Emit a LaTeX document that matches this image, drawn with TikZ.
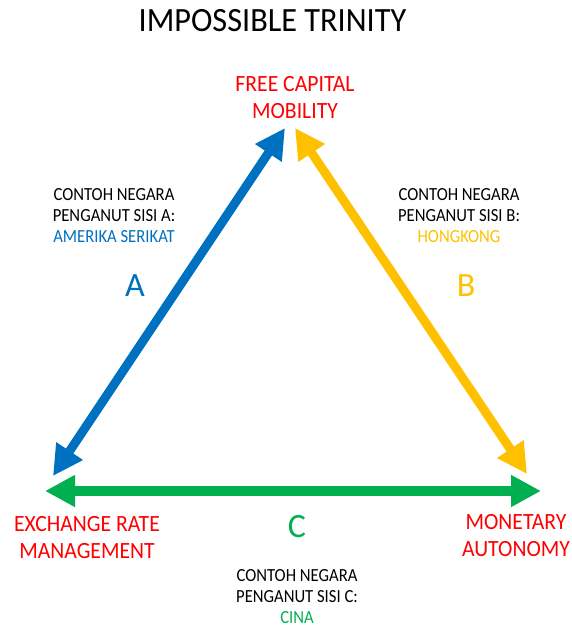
\documentclass[tikz,border=0pt]{standalone}
\usepackage{fontspec}
\usetikzlibrary{arrows.meta}
\setmainfont{Carlito}
\newfontfamily\ftitle[FakeStretch=0.95]{Carlito}
\newfontfamily\fred[FakeStretch=0.93]{Carlito}
\newfontfamily\fsmall[FakeStretch=0.9]{Carlito}
\definecolor{cblue}{HTML}{0070C0}
\definecolor{cyellow}{HTML}{FFC000}
\definecolor{cgreen}{HTML}{00B050}
\definecolor{cred}{HTML}{FF0000}
\tikzset{
  titletext/.style={inner sep=0pt, font=\ftitle\fontsize{34}{40}\selectfont},
  vertex/.style={inner sep=0pt, align=center, text=cred, font=\fred\fontsize{23.3}{27}\selectfont},
  note/.style={inner sep=0pt, align=center, font=\fsmall\fontsize{18.5}{21}\selectfont},
  sidelabel/.style={inner sep=0pt, font=\fontsize{34}{40}\selectfont},
  biarrow/.style={line width=#1, {Triangle[length=30pt,width=30pt]}-{Triangle[length=30pt,width=30pt]}},
}
\begin{document}
\begin{tikzpicture}[x=1pt,y=-1pt]
\useasboundingbox (0,0) rectangle (571,628);
\node[titletext] (title) at (272.5,21) {IMPOSSIBLE TRINITY};
\node[vertex] (fcm) at (295,98) {FREE CAPITAL\\MOBILITY};
\node[vertex] (exr) at (87,537.5) {EXCHANGE RATE\\MANAGEMENT};
\node[vertex] (mon) at (516,536) {MONETARY\\AUTONOMY};

\coordinate (blueTop) at (285,128);
\coordinate (blueBot) at (53,476);
\coordinate (yelTop) at (295,128);
\coordinate (yelBot) at (527,474);
\coordinate (grnL) at (45,491);
\coordinate (grnR) at (541,491);

\draw[biarrow=9pt, cblue] (blueBot) -- (blueTop);
\draw[biarrow=9pt, cyellow] (yelTop) -- (yelBot);
\draw[biarrow=10pt, cgreen] (grnL) -- (grnR);

\node[note] (noteA) at (114,216) {CONTOH NEGARA\\PENGANUT SISI A:\\\textcolor{cblue}{AMERIKA SERIKAT}};
\node[note] (noteB) at (459,216) {CONTOH NEGARA\\PENGANUT SISI B:\\\textcolor{cyellow}{HONGKONG}};
\node[note] (noteC) at (297,596.5) {CONTOH NEGARA\\PENGANUT SISI C:\\\textcolor{cgreen}{CINA}};

\node[sidelabel, text=cblue] (labA) at (135,286) {A};
\node[sidelabel, text=cyellow] (labB) at (466,286) {B};
\node[sidelabel, text=cgreen] (labC) at (297,527) {C};
\end{tikzpicture}
\end{document}
